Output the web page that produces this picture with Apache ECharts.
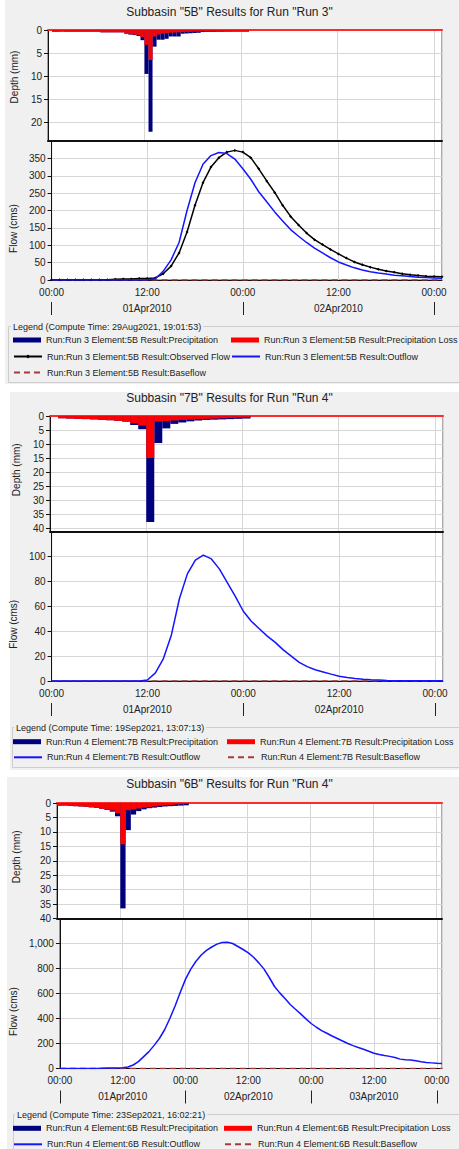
<!DOCTYPE html>
<html><head><meta charset="utf-8">
<script src="https://cdn.jsdelivr.net/npm/echarts@6/dist/echarts.min.js"></script>
<style>html,body{margin:0;padding:0;background:#fff}#c{width:459px;height:1149px}</style>
</head><body><div id="c"></div>
<script>
// ---------------- DATA ----------------
const title5B = 'Subbasin "5B" Results for Run "Run 3"';
const title7B = 'Subbasin "7B" Results for Run "Run 4"';
const title6B = 'Subbasin "6B" Results for Run "Run 4"';
const legendTitle5B = 'Legend (Compute Time: 29Aug2021, 19:01:53)';
const legendTitle7B = 'Legend (Compute Time: 19Sep2021, 13:07:13)';
const legendTitle6B = 'Legend (Compute Time: 23Sep2021, 16:02:21)';
const days5B = ['01Apr2010', '02Apr2010'];
const days7B = ['01Apr2010', '02Apr2010'];
const days6B = ['01Apr2010', '02Apr2010', '03Apr2010'];
const hourTickLabels = ['00:00', '12:00'];

// depth (mm), 30-minute intervals from 00:00
const precip5B = [0, 0.35, 0.35, 0.35, 0.35, 0.35, 0.35, 0.35, 0.35, 0.35, 0.35, 0.35, 0.35,
  0.5, 0.5, 0.5, 0.5, 0.5, 0.5, 0.8, 1.0, 1.1, 1.3, 2.2, 9.5, 22.0, 3.6, 2.1, 2.1, 1.9,
  1.4, 1.4, 1.4, 0.8, 0.75, 0.7, 0.65, 0.6, 0.45, 0.4, 0.4, 0.4, 0.38, 0.38, 0.36, 0.36,
  0.35, 0.35, 0.35, 0.35];
const loss5B = [0, 0.35, 0.35, 0.35, 0.35, 0.35, 0.35, 0.35, 0.35, 0.35, 0.35, 0.35, 0.35,
  0.5, 0.5, 0.5, 0.5, 0.5, 0.5, 0.8, 0.9, 1.0, 1.1, 1.5, 3.2, 6.5, 1.4, 1.0, 0.8, 0.7,
  0.6, 0.55, 0.5, 0.45, 0.4, 0.4, 0.35, 0.35, 0.3, 0.3, 0.3, 0.3, 0.3, 0.3, 0.3, 0.3,
  0.3, 0.3, 0.3, 0.3];
// depth (mm), hourly intervals from 00:00
const precip7B = [0, 0.8, 0.9, 1.0, 1.1, 1.2, 1.4, 1.5, 1.7, 2.0, 3.2, 4.7, 37.6, 9.6, 4.4,
  2.8, 2.3, 1.9, 1.6, 1.4, 1.3, 1.2, 1.1, 1.0, 0.9];
const loss7B = [0, 0.8, 0.9, 1.0, 1.1, 1.2, 1.4, 1.5, 1.7, 2.0, 2.6, 3.4, 14.9, 2.0, 1.8,
  1.6, 1.4, 1.3, 1.1, 1.0, 0.9, 0.8, 0.7, 0.6, 0.5];
const precip6B = [0.9, 0.9, 1.0, 1.1, 1.2, 1.3, 1.5, 1.7, 2.0, 2.4, 3.0, 4.6, 36.5, 9.4, 4.0,
  2.8, 2.2, 1.8, 1.6, 1.4, 1.2, 1.1, 1.0, 0.9, 0.8];
const loss6B = [0.9, 0.9, 1.0, 1.1, 1.2, 1.3, 1.5, 1.7, 2.0, 2.3, 2.6, 3.5, 14.3, 2.5, 2.2,
  1.9, 1.6, 1.4, 1.2, 1.0, 0.8, 0.7, 0.5, 0.4, 0.3];

// flow (cms), hourly from 00:00
const observed5B = [0.5, 0.5, 0.5, 0.5, 0.5, 0.5, 0.5, 1, 2, 3, 3, 4, 4, 6, 18, 40, 78, 138,
  215, 280, 325, 352, 368, 373, 368, 352, 320, 285, 252, 215, 183, 158, 135, 116, 102, 88,
  75, 63, 52, 44, 37, 31, 26, 22, 18, 15, 13, 11, 10, 9];
const outflow5B = [0, 0, 0, 0, 0, 0, 0, 0, 0, 0, 0, 0, 0.5, 3, 25, 58, 108, 200, 280, 333,
  358, 367, 364, 348, 320, 290, 254, 225, 196, 170, 145, 126, 108, 92, 78, 64, 52, 43, 35,
  29, 24, 20, 17, 14, 12, 10, 8, 7, 6, 5];
const outflow7B = [0, 0, 0, 0, 0, 0, 0, 0, 0, 0, 0, 0, 0.8, 6.5, 18, 37, 66, 86, 97, 101, 98,
  90, 79, 68, 56, 48, 42, 36, 31, 25, 20, 15, 11.5, 9, 7.3, 5.5, 3.8, 2.8, 2.1, 1.5, 1.1,
  0.8, 0.5, 0.3, 0.2, 0.2, 0.2, 0.2, 0.2, 0.2];
const outflow6B = [0, 0, 0, 0, 0, 0, 0, 0, 2, 4, 5, 5, 6, 12, 28, 55, 95, 135, 185, 240, 310,
  400, 500, 610, 715, 795, 858, 908, 945, 972, 995, 1008, 1010, 1000, 976, 952, 925, 890,
  845, 795, 728, 656, 605, 560, 512, 474, 437, 397, 360, 330, 303, 282, 260, 240, 220, 200,
  183, 168, 154, 138, 122, 112, 104, 97, 88, 75, 70, 68, 62, 54, 48, 45, 42, 40];
const baseflowHours5B = [0, 49];
const baseflow5B = [0, 0];
const baseflowHours7B = [0, 49];
const baseflow7B = [0, 0];
const baseflowHours6B = [0, 73];
const baseflow6B = [0, 0];

// ---------------- CHART ----------------
const FONT = 'Liberation Sans';
const GRID_LINE = '#d6d6d6';
const TXT = '#222';

const panels = [
  { title: title5B, legendTitle: legendTitle5B, run: 'Run 3', el: '5B', days: days5B,
    precip: precip5B, loss: loss5B, step: 0.5,
    observed: observed5B, outflow: outflow5B, baseHours: baseflowHours5B, base: baseflow5B,
    xMax: 49, dMax: 24, showDMax: false, fMax: 400, fInt: 50,
    L: { left: 48, right: 17, dTop: 30, dH: 111, fH: 139, titleTop: 6,
      dNameGap: 27, dNamePad: 17, fNameGap: 28, rows: [340, 356.5, 372.5], legL: 13, legR: 231,
      bg: [5, 0, 454, 384], box: [8.5, 326.5, 460, 56], boxText: [11, 326.5] } },
  { title: title7B, legendTitle: legendTitle7B, run: 'Run 4', el: '7B', days: days7B,
    precip: precip7B, loss: loss7B, step: 1,
    observed: null, outflow: outflow7B, baseHours: baseflowHours7B, base: baseflow7B,
    xMax: 49, dMax: 41, showDMax: false, fMax: 120, fInt: 20,
    L: { left: 50, right: 16, dTop: 416, dH: 115.5, fH: 149.5, titleTop: 392,
      dNameGap: 27, dNamePad: 8, fNameGap: 27, rows: [741.7, 757.3], legL: 13, legR: 227,
      bg: [10, 392, 449, 378], box: [12.5, 727.5, 460, 40], boxText: [14, 727.5] } },
  { title: title6B, legendTitle: legendTitle6B, run: 'Run 4', el: '6B', days: days6B,
    precip: precip6B, loss: loss6B, step: 1,
    observed: null, outflow: outflow6B, baseHours: baseflowHours6B, base: baseflow6B,
    xMax: 73, dMax: 40, showDMax: true, fMax: 1200, fInt: 200,
    L: { left: 57, right: 17, dTop: 803, dH: 115.5, fH: 150, titleTop: 778,
      dNameGap: 36, dNamePad: 8, fNameGap: 35, rows: [1128.3, 1144.3], legL: 13, legR: 224,
      bg: [7, 777, 452, 380], box: [13.5, 1114.5, 460, 50], boxText: [15, 1114.5] } }
];

function barItem(params, api) {
  const a = api.coord([api.value(0), 0]);
  const b = api.coord([api.value(1), api.value(2)]);
  return { type: 'rect',
    shape: { x: a[0], y: Math.min(a[1], b[1]), width: b[0] - a[0], height: Math.abs(b[1] - a[1]) },
    style: { fill: api.visual('color') } };
}

const option = {
  animation: false,
  backgroundColor: '#ffffff',
  textStyle: { fontFamily: FONT },
  title: [], grid: [], xAxis: [], yAxis: [], series: [], legend: [], graphic: []
};

const NO_MARK = { color: 'rgba(0,0,0,0)', borderWidth: 0, borderColor: 'rgba(0,0,0,0)' };

panels.forEach((p, i) => {
  const L = p.L;
  const nm = r => 'Run:' + p.run + ' Element:' + p.el + ' Result:' + r;
  const nPrecip = nm('Precipitation'), nLoss = nm('Precipitation Loss'),
        nObs = nm('Observed Flow'), nOut = nm('Outflow'), nBase = nm('Baseflow');

  option.graphic.push({ type: 'rect', z: -100, silent: true,
    shape: { x: L.bg[0], y: L.bg[1], width: L.bg[2], height: L.bg[3] }, style: { fill: '#f0f0f0' } });
  option.graphic.push({ type: 'rect', z: -50, silent: true,
    shape: { x: L.box[0], y: L.box[1], width: L.box[2], height: L.box[3] },
    style: { fill: 'none', stroke: '#cdcdcd', lineWidth: 1 } });
  option.graphic.push({ type: 'text', z: -40, silent: true, x: L.boxText[0], y: L.boxText[1],
    style: { text: p.legendTitle, fontSize: 9, fontFamily: FONT, fill: TXT,
      verticalAlign: 'middle', backgroundColor: '#f0f0f0', padding: [0, 2, 0, 2] } });

  option.title.push({ text: p.title, left: 'center', top: L.titleTop, padding: [0, 0, 0, 16],
    textStyle: { fontSize: 12, fontWeight: 'normal', color: TXT, fontFamily: FONT } });

  const gD = 2 * i, gF = 2 * i + 1;
  option.grid.push({ left: L.left, right: L.right, top: L.dTop, height: L.dH, show: true,
    backgroundColor: '#fff', borderColor: '#555', borderWidth: 1 });
  option.grid.push({ left: L.left, right: L.right, top: L.dTop + L.dH, height: L.fH, show: true,
    backgroundColor: '#fff', borderColor: '#555', borderWidth: 1 });

  const dayTicks = p.days.map((d, k) => k * 24).concat([p.days.length * 24]);
  const dayLabelPos = p.days.map((d, k) => k * 24 + 12);

  option.xAxis.push({ gridIndex: gD, type: 'value', position: 'top', min: 0, max: p.xMax, interval: 12,
    axisLine: { show: true, onZero: false, lineStyle: { color: '#ff2a2a', width: 2 } },
    axisTick: { show: false }, axisLabel: { show: false },
    splitLine: { show: true, lineStyle: { color: GRID_LINE } } });
  option.xAxis.push({ gridIndex: gD, type: 'value', position: 'bottom', min: 0, max: p.xMax,
    axisLine: { show: true, onZero: false, lineStyle: { color: '#111', width: 2 } },
    axisTick: { show: false }, axisLabel: { show: false }, splitLine: { show: false } });
  option.xAxis.push({ gridIndex: gF, type: 'value', position: 'bottom', min: 0, max: p.xMax, interval: 12,
    axisLine: { show: true, onZero: false, lineStyle: { color: '#111' } },
    axisTick: { show: false },
    axisLabel: { margin: 7, fontSize: 10, color: TXT, showMaxLabel: false,
      formatter: v => (v % 24 === 0 ? hourTickLabels[0] : (v % 24 === 12 ? hourTickLabels[1] : '')) },
    splitLine: { show: true, lineStyle: { color: GRID_LINE } } });
  option.xAxis.push({ gridIndex: gF, type: 'value', position: 'bottom', offset: 22, min: 0, max: p.xMax,
    axisLine: { show: false, onZero: false },
    axisTick: { show: true, customValues: dayTicks, length: 13, lineStyle: { color: '#222' } },
    axisLabel: { customValues: dayLabelPos, margin: 1, fontSize: 10, color: TXT,
      formatter: v => p.days[Math.floor(v / 24)] || '' },
    splitLine: { show: false } });

  option.yAxis.push({ gridIndex: gD, type: 'value', inverse: true, min: 0, max: p.dMax, interval: 5,
    axisLine: { show: true, lineStyle: { color: '#111' } },
    axisTick: { show: true, length: 4, lineStyle: { color: '#111' } },
    axisLabel: { fontSize: 10, color: TXT, margin: 6, showMaxLabel: p.showDMax, showMinLabel: true },
    splitLine: { show: true, lineStyle: { color: GRID_LINE } },
    name: 'Depth (mm)', nameLocation: 'middle', nameGap: L.dNameGap,
    nameTextStyle: { fontSize: 10, color: TXT, padding: [0, 0, 0, L.dNamePad] } });
  option.yAxis.push({ gridIndex: gF, type: 'value', min: 0, max: p.fMax, interval: p.fInt,
    axisLine: { show: true, lineStyle: { color: '#111' } },
    axisTick: { show: true, length: 4, lineStyle: { color: '#111' } },
    axisLabel: { fontSize: 10, color: TXT, margin: 6, showMaxLabel: false,
      formatter: v => v.toLocaleString('en-US') },
    splitLine: { show: true, lineStyle: { color: GRID_LINE } },
    name: 'Flow (cms)', nameLocation: 'middle', nameGap: L.fNameGap,
    nameTextStyle: { fontSize: 10, color: TXT, padding: [0, 36, 0, 0] } });

  const toBars = arr => arr.map((v, k) => [k * p.step, (k + 1) * p.step, v]);
  const toHourly = arr => arr.map((v, k) => [k, v]);

  option.series.push({ type: 'custom', name: nPrecip, xAxisIndex: 4 * i, yAxisIndex: 2 * i,
    renderItem: barItem, encode: { x: [0, 1], y: 2 }, itemStyle: { color: '#00007f' },
    data: toBars(p.precip) });
  option.series.push({ type: 'custom', name: nLoss, xAxisIndex: 4 * i, yAxisIndex: 2 * i,
    renderItem: barItem, encode: { x: [0, 1], y: 2 }, itemStyle: { color: '#ff0000' },
    data: toBars(p.loss) });

  option.series.push({ type: 'line', name: nBase, xAxisIndex: 4 * i + 2, yAxisIndex: 2 * i + 1,
    symbol: 'none', lineStyle: { color: '#a83a3a', width: 1.3, type: [6, 4] },
    itemStyle: { color: '#a83a3a' }, z: 3,
    data: p.base.map((v, k) => [p.baseHours[k], v]) });
  if (p.observed) {
    option.series.push({ type: 'line', name: nObs, xAxisIndex: 4 * i + 2, yAxisIndex: 2 * i + 1,
      symbol: 'diamond', symbolSize: 3, showSymbol: true,
      lineStyle: { color: '#000', width: 1.5 }, itemStyle: { color: '#000' }, z: 4,
      data: toHourly(p.observed) });
  }
  option.series.push({ type: 'line', name: nOut, xAxisIndex: 4 * i + 2, yAxisIndex: 2 * i + 1,
    symbol: 'none', lineStyle: { color: '#1414ff', width: 1.5 }, itemStyle: { color: '#1414ff' }, z: 5,
    data: toHourly(p.outflow) });

  // one legend component per entry so each row sits exactly where the reference has it
  const leftCol = p.observed
    ? [{ name: nPrecip, icon: 'rect' }, { name: nObs }, { name: nBase, itemStyle: NO_MARK }]
    : [{ name: nPrecip, icon: 'rect' }, { name: nOut, itemStyle: NO_MARK }];
  const rightCol = p.observed
    ? [{ name: nLoss, icon: 'rect' }, { name: nOut, itemStyle: NO_MARK }]
    : [{ name: nLoss, icon: 'rect' }, { name: nBase, itemStyle: NO_MARK }];
  const addLeg = (item, x, rowY) => option.legend.push({
    orient: 'horizontal', left: x, top: rowY - 5.5, itemWidth: 28, itemHeight: 5,
    selectedMode: false, padding: 0,
    textStyle: { fontSize: 9, color: TXT, lineHeight: 11, fontFamily: FONT },
    data: [item] });
  leftCol.forEach((it, r) => addLeg(it, L.legL, L.rows[r]));
  rightCol.forEach((it, r) => addLeg(it, L.legR, L.rows[r]));
});

const chart = echarts.init(document.getElementById('c'), null, { renderer: 'svg', width: 459, height: 1149 });
chart.setOption(option);
</script>
</body></html>
